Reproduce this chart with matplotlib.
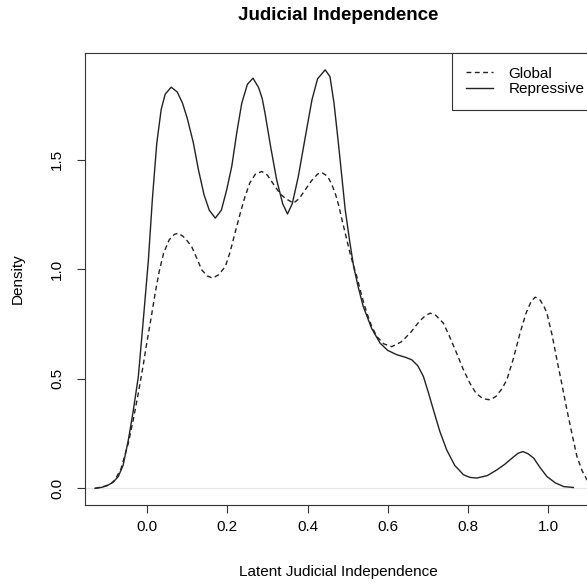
import matplotlib
matplotlib.use("Agg")
import matplotlib.pyplot as plt

# densities
global_x = [-0.130, -0.105, -0.090, -0.080, -0.065, -0.047, -0.035, -0.022, -0.010, -0.001,
            0.010, 0.020, 0.030, 0.041, 0.055, 0.068, 0.078, 0.090, 0.100, 0.111,
            0.124, 0.136, 0.150, 0.163, 0.178, 0.195, 0.207, 0.219, 0.232, 0.244,
            0.256, 0.270, 0.286, 0.300, 0.319, 0.332, 0.344, 0.365, 0.380, 0.394,
            0.410, 0.425, 0.436, 0.450, 0.460, 0.469, 0.478, 0.486, 0.496, 0.506,
            0.515, 0.523, 0.535, 0.548, 0.560, 0.573, 0.590, 0.610, 0.633, 0.656,
            0.680, 0.695, 0.706, 0.720, 0.739, 0.755, 0.772, 0.788, 0.805, 0.820,
            0.837, 0.855, 0.870, 0.885, 0.897, 0.913, 0.930, 0.945, 0.958, 0.968,
            0.980, 0.990, 0.997, 1.010, 1.022, 1.035, 1.047, 1.060, 1.072, 1.085,
            1.097, 1.115, 1.140]
global_y = [0.000, 0.010, 0.022, 0.039, 0.090, 0.206, 0.310, 0.435, 0.560, 0.663,
            0.780, 0.891, 0.990, 1.074, 1.135, 1.160, 1.165, 1.150, 1.130, 1.104,
            1.050, 0.998, 0.970, 0.960, 0.975, 1.013, 1.080, 1.165, 1.255, 1.332,
            1.395, 1.435, 1.447, 1.430, 1.378, 1.345, 1.325, 1.302, 1.325, 1.363,
            1.405, 1.435, 1.442, 1.425, 1.390, 1.348, 1.290, 1.226, 1.150, 1.074,
            1.015, 0.967, 0.880, 0.800, 0.740, 0.693, 0.660, 0.647, 0.668, 0.709,
            0.765, 0.790, 0.800, 0.790, 0.754, 0.690, 0.617, 0.545, 0.480, 0.435,
            0.410, 0.404, 0.420, 0.455, 0.495, 0.590, 0.709, 0.800, 0.855, 0.873,
            0.860, 0.830, 0.800, 0.700, 0.587, 0.470, 0.358, 0.245, 0.145, 0.080,
            0.039, 0.012, 0.002]

repr_x = [-0.130, -0.115, -0.100, -0.085, -0.072, -0.060, -0.047, -0.035, -0.022, -0.010,
          0.003, 0.013, 0.024, 0.035, 0.045, 0.060, 0.075, 0.088, 0.100, 0.115,
          0.128, 0.142, 0.155, 0.170, 0.185, 0.198, 0.211, 0.224, 0.236, 0.250,
          0.264, 0.278, 0.287, 0.294, 0.308, 0.323, 0.338, 0.350, 0.362, 0.377,
          0.394, 0.411, 0.425, 0.444, 0.456, 0.466, 0.477, 0.494, 0.505, 0.515,
          0.527, 0.539, 0.560, 0.581, 0.600, 0.623, 0.645, 0.660, 0.675, 0.689,
          0.701, 0.714, 0.730, 0.747, 0.767, 0.789, 0.805, 0.822, 0.848, 0.872,
          0.892, 0.910, 0.925, 0.937, 0.950, 0.964, 0.980, 0.997, 1.018, 1.039,
          1.063]
repr_y = [0.000, 0.004, 0.012, 0.028, 0.054, 0.105, 0.220, 0.350, 0.510, 0.760,
          1.040, 1.320, 1.576, 1.730, 1.800, 1.832, 1.810, 1.760, 1.690, 1.580,
          1.454, 1.340, 1.270, 1.234, 1.270, 1.360, 1.470, 1.630, 1.759, 1.845,
          1.873, 1.830, 1.780, 1.713, 1.560, 1.409, 1.300, 1.253, 1.300, 1.424,
          1.600, 1.774, 1.870, 1.911, 1.880, 1.760, 1.576, 1.272, 1.130, 1.013,
          0.915, 0.830, 0.730, 0.663, 0.630, 0.610, 0.598, 0.587, 0.560, 0.511,
          0.440, 0.358, 0.260, 0.176, 0.105, 0.062, 0.050, 0.047, 0.058, 0.084,
          0.110, 0.138, 0.160, 0.168, 0.158, 0.138, 0.095, 0.054, 0.025, 0.008,
          0.004]

y_ticks = [0.0, 0.5, 1.0, 1.5]
x_ticks = [0.0, 0.2, 0.4, 0.6, 0.8, 1.0]

plt.rcParams['font.family'] = ['Liberation Sans', 'DejaVu Sans']

W, H = 587, 585
fig = plt.figure(figsize=(W / 100, H / 100), dpi=100)
ax = fig.add_axes([85 / W, 80 / H, 506 / W, 452 / H])

ax.axhline(0, color='#e6e6e6', lw=0.8, zorder=1)
ax.plot(global_x, global_y, color='#222222', lw=1.0, ls=(0, (3.5, 2.5)), label='Global')
ax.plot(repr_x, repr_y, color='#222222', lw=1.0, label='Repressive')

ax.set_xlim(-0.155, 1.107)
ax.set_ylim(-0.076, 1.988)
ax.set_xticks(x_ticks)
ax.set_xticklabels([f"{v:.1f}" for v in x_ticks])
ax.set_yticks(y_ticks)
ax.set_yticklabels([f"{v:.1f}" for v in y_ticks], rotation=90, va='center')
ax.tick_params(length=6, width=0.8, color='#333333', labelsize=11)
ax.tick_params(axis='x', pad=5)
ax.tick_params(axis='y', pad=9)

for s in ax.spines.values():
    s.set_color('#333333')
    s.set_linewidth(0.8)

ax.set_xlabel('Latent Judicial Independence', fontsize=11, labelpad=22)
ax.set_ylabel('Density', fontsize=11, labelpad=18)
ax.set_title('Judicial Independence', fontsize=13.5, fontweight='bold', pad=24)

leg = ax.legend(loc='upper left', bbox_to_anchor=((452 - 85) / 506, 1.0),
                fontsize=11, frameon=True, fancybox=False, framealpha=1,
                edgecolor='#333333', handlelength=1.8, handletextpad=1.0,
                borderpad=0.9, labelspacing=0.1, borderaxespad=0)
leg.get_frame().set_linewidth(0.8)

fig.savefig('out.png', dpi=100)
